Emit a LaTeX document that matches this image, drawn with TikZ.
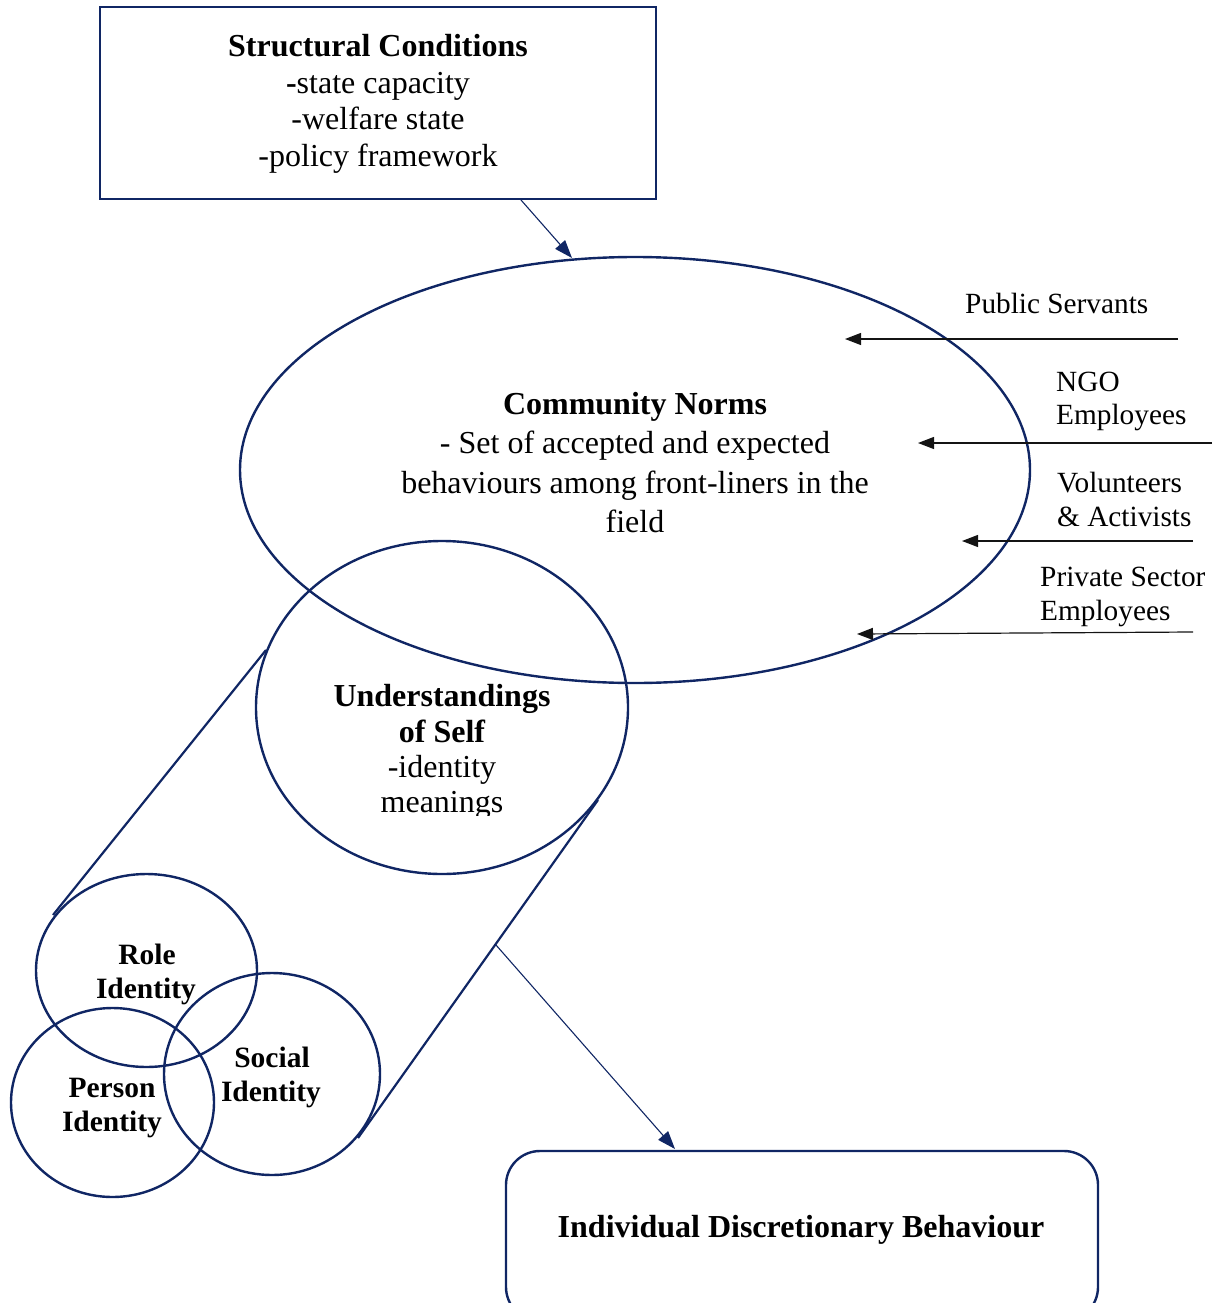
\documentclass[tikz,border=0pt]{standalone}
\usepackage{fontspec}
\setmainfont{Liberation Serif}
\usetikzlibrary{shapes.geometric,arrows.meta}
\definecolor{navy}{RGB}{16,38,100}
\definecolor{ink}{RGB}{20,20,20}
\tikzset{
  shapeline/.style={draw=navy, line width=2.4pt},
  blob/.style={shapeline, ellipse, inner sep=0pt},
  navyarrow/.style={draw=navy, line width=1.1pt, -{Triangle[length=18pt,width=13pt]}},
  grouparrow/.style={draw=ink, line width=1.2pt, -{Triangle[length=16pt,width=12pt]}},
  zoomline/.style={draw=navy, line width=2.2pt},
  label/.style={font=\fontsize{29.3}{33}\selectfont, inner sep=0pt, anchor=base west},
  title/.style={font=\fontsize{32}{36}\selectfont\bfseries, inner sep=0pt, anchor=base},
  plain/.style={font=\fontsize{32}{36}\selectfont, inner sep=0pt, anchor=base},
  small title/.style={font=\fontsize{29.5}{34}\selectfont\bfseries, inner sep=0pt, anchor=base},
}
\begin{document}
\begin{tikzpicture}[x=1pt,y=-1pt]
\useasboundingbox (0,0) rectangle (1220,1303);

% structural conditions box
\node[shapeline, rectangle, minimum width=556pt, minimum height=192pt, inner sep=0pt]
  (sc) at (378,103) {};
\node[title] (scT) at (378,57) {Structural Conditions};
\node[plain] (sc1) at (378,94) {\textbf{-}state capacity};
\node[plain] (sc2) at (378,130) {-welfare state};
\node[plain] (sc3) at (378,166) {-policy framework};

% community norms ellipse
\node[blob, minimum width=790pt, minimum height=426pt] (cn) at (635,470) {};
\node[title] (cnT) at (635,414) {Community Norms};
\node[plain] (cn1) at (635,453) {- Set of accepted and expected};
\node[plain] (cn2) at (635,493) {behaviours among front-liners in the};
\node[plain] (cn3) at (635,532) {field};

% understandings of self
\node[blob, minimum width=372pt, minimum height=333pt] (us) at (442,707.5) {};
\node[title] (usT1) at (442,706) {Understandings};
\node[title] (usT2) at (442,742) {of Self};
\node[plain] (us1) at (442,777) {-identity};
\begin{scope}
  \clip (300,780) rectangle (600,815);
  \node[plain] (us2) at (442,812) {meanings};
\end{scope}

% identity circles
\node[blob, minimum width=221pt, minimum height=193pt] (role) at (146.5,970.5) {};
\node[blob, minimum width=203pt, minimum height=189pt] (person) at (112.5,1102.5) {};
\node[blob, minimum width=216pt, minimum height=202pt] (social) at (272,1074) {};
\node[small title] (roleA) at (147,964) {Role};
\node[small title] (roleB) at (146,998) {Identity};
\node[small title] (personA) at (112,1097) {Person};
\node[small title] (personB) at (112,1131) {Identity};
\node[small title] (socialA) at (272,1067) {Social};
\node[small title] (socialB) at (271,1101) {Identity};

% lines opening the self circle onto the identity cluster
\coordinate (usL) at (266,650);
\coordinate (usR) at (598,800);
\coordinate (roleL) at (53,915);
\coordinate (socialR) at (358,1138);
\draw[zoomline] (usL) -- (roleL);
\draw[zoomline] (usR) -- (socialR);

% individual discretionary behaviour box
\node[shapeline, rectangle, rounded corners=34pt, minimum width=592pt, minimum height=170pt, inner sep=0pt]
  (idb) at (802,1236) {};
\node[title] (idbT) at (801,1237) {Individual Discretionary Behaviour};

% main arrows
\coordinate (scOut) at (521,200);
\coordinate (cnIn) at (572,258);
\draw[navyarrow] (scOut) -- (cnIn);
\coordinate (usOut) at (496,945);
\coordinate (idbIn) at (675,1149);
\draw[navyarrow] (usOut) -- (idbIn);

% groups feeding into community norms
\node[label] (ps) at (965,313) {Public Servants};
\node[label] (ngo1) at (1056,391) {NGO};
\node[label] (ngo2) at (1056,424) {Employees};
\node[label] (vol1) at (1057,492) {Volunteers};
\node[label] (vol2) at (1057,526) {\& Activists};
\node[label] (priv1) at (1040,586) {Private Sector};
\node[label] (priv2) at (1040,620) {Employees};

\coordinate (psS) at (1178,339);
\coordinate (psE) at (845,339);
\coordinate (ngoS) at (1212,443);
\coordinate (ngoE) at (918,443);
\coordinate (volS) at (1193,541);
\coordinate (volE) at (962,541);
\coordinate (privS) at (1193,632);
\coordinate (privE) at (857,634);
\draw[grouparrow] (psS) -- (psE);
\draw[grouparrow] (ngoS) -- (ngoE);
\draw[grouparrow] (volS) -- (volE);
\draw[grouparrow] (privS) -- (privE);
\end{tikzpicture}
\end{document}
